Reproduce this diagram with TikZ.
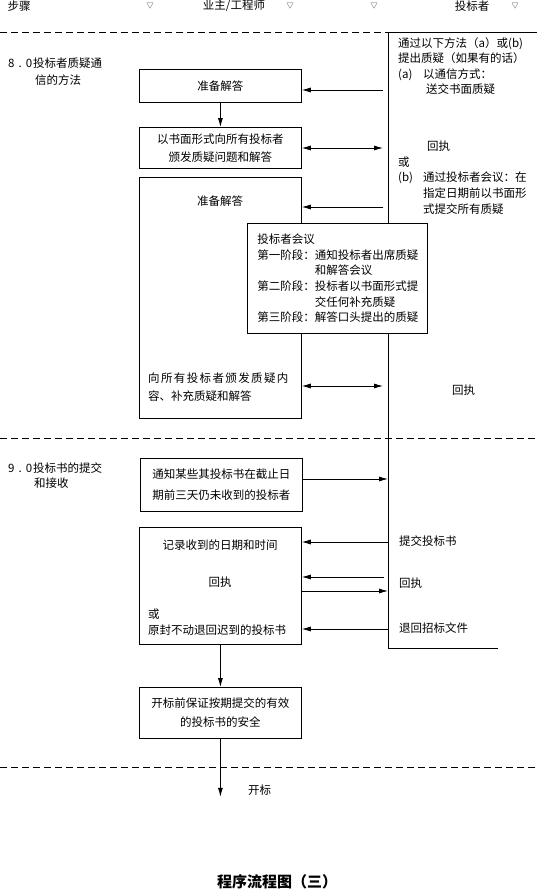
\documentclass[tikz,border=0pt]{standalone}
\usepackage{fontspec}
\setmainfont{Noto Sans CJK SC}
\usetikzlibrary{arrows.meta,calc}
\newcommand{\fs}[1]{\fontsize{11.5}{#1}\selectfont}
\tikzset{
  blk/.style={
    draw=black, line width=0.8pt, fill=white, inner sep=2pt,
    anchor=north west, minimum width=162pt, align=center, font=\fs{18}},
  txt/.style={inner sep=0pt, align=left, anchor=west, font=\fs{15.5}},
  hdr/.style={inner sep=0pt, font=\fs{14}},
  tri/.style={inner sep=0pt, font=\fontsize{7}{8}\selectfont},
  rule/.style={draw=black, line width=0.8pt},
  sep/.style={draw=black, line width=0.8pt, dash pattern=on 7pt off 4pt},
  fl/.style={-{Latex[length=9pt,width=5pt]}, draw=black, line width=0.8pt},
  bi/.style={{Latex[length=9pt,width=5pt]}-{Latex[length=9pt,width=5pt]},
             draw=black, line width=0.8pt},
}

\begin{document}
\begin{tikzpicture}[x=1pt, y=-1pt]
\fill[white] (0,0) rectangle (537,891);
\useasboundingbox (0,0) rectangle (537,891);

% =====================================================================
% header row
\node[hdr] (hstep) at (19,6)  {步骤};
\node[hdr] (hown)  at (234,6) {业主/工程师};
\node[hdr] (hbid)  at (472,6) {投标者};
\foreach \x [count=\i] in {150,290,374,515}
  \node[tri] (v\i) at (\x,6.5) {▽};

% the bidder's column
\node[inner sep=0pt, minimum width=148.6pt, minimum height=616pt,
      anchor=north west] (col) at (388,32) {};
\draw[rule] (col.south west) -- (col.north west) -- (col.north east) -- ++(0,491);
\draw[rule] (col.south west) -- ++(110,0);

\draw[sep] (0,32) -- (col.north west);
\draw[sep] (0,438) -- (537,438);
\draw[sep] (0,767) -- (537,767);

% =====================================================================
% 8.0
\node[txt, font=\fs{17}] (s8) at (8,71.5)
  {8\hspace{4pt}.\hspace{4pt}0\hspace{1pt}投标者质疑通\\\hspace*{27pt}信的方法};

\node[blk, minimum height=33pt] (box1) at (139,69) {准备解答};
\node[blk, minimum height=41pt] (box2) at (139,127)
  {以书面形式向所有投标者\\颁发质疑问题和解答};
\node[blk, minimum height=241pt] (prep) at (139,177) {};
\node[hdr] (prept) at (220,201) {准备解答};
\node[txt, font=\fs{18}] (prepb) at (148,387)
  {{\addfontfeature{LetterSpace=12}向所有投标者颁发质疑内}\\容、补充质疑和解答};

\node[txt, font=\fs{15.3}] (qa) at (398,66)
  {通过以下方法（a）或(b)\\提出质疑（如果有的话）\\\makebox[25pt][l]{(a)}以通信方式：\\\hspace*{28pt}送交书面质疑};
\node[txt] (ack1) at (427,146) {回执};
\node[txt, font=\fs{15.7}] (qb) at (398,185.5)
  {或\\\makebox[25pt][l]{(b)}通过投标者会议：在\\\hspace*{25pt}指定日期前以书面形\\\hspace*{25pt}式提交所有质疑};
\node[txt] (ack2) at (452,390) {回执};

% the meeting sits over the column line
\node[blk, minimum width=180pt, minimum height=110pt, text width=160pt,
      align=left, font=\fs{15.7}] (meet) at (247,223)
  {投标者会议\\第一阶段：通知投标者出席质疑\\\phantom{第一阶段：}和解答会议\\第二阶段：投标者以书面形式提\\\phantom{第二阶段：}交任何补充质疑\\第三阶段：解答口头提出的质疑};

% =====================================================================
% 9.0
\node[txt, font=\fs{15}] (s9) at (8,475.5)
  {9\hspace{4pt}.\hspace{4pt}0\hspace{1pt}投标书的提交\\\hspace*{26pt}和接收};

\node[blk, minimum height=53pt, font=\fs{21}] (notify) at (140,458)
  {通知某些其投标书在截止日\\期前三天仍未收到的投标者};
\node[blk, minimum height=117pt] (rec) at (139,527) {};
\node[hdr] (rect) at (220,545) {记录收到的日期和时间};
\node[hdr] (reca) at (220,582) {回执};
\node[txt, font=\fs{16}] (recb) at (148,622) {或\\原封不动退回迟到的投标书};
\node[blk, minimum height=51pt, font=\fs{19}] (safe) at (139,687)
  {开标前保证按期提交的有效\\的投标书的安全};

\node[txt] (sub) at (399,541) {提交投标书};
\node[txt] (ack3) at (399,583) {回执};
\node[txt] (ret) at (399,628) {退回招标文件};

\coordinate (open) at ($(safe.south)+(0,58)$);
\node[txt] (opent) at (248,790) {开标};

% =====================================================================
% connectors
\foreach \n/\x/\y in {a/383/90, b/383/148, c/383/207, d/383/386, e/388/479,
                      f/388/542, g/384/577, h/388/591, i/388/629}
  \coordinate (r\n) at (\x,\y);

\foreach \a/\b in {ra/box1, rc/prep, rf/rec, rg/rec, ri/rec}
  \draw[fl] (\a) -- (\a -| \b.east);
\foreach \a/\b in {re/notify, rh/rec}
  \draw[fl] (\a -| \b.east) -- (\a);
\foreach \a/\b in {rb/box2, rd/prep}
  \draw[bi] (\a -| \b.east) -- (\a);

\foreach \a/\b in {box1/box2, rec/safe, safe/open}
  \draw[fl] (\a) -- (\b);

% title
\node[inner sep=0pt, font=\fontsize{15}{18}\selectfont\bfseries] (title)
  at (277,882) {程序流程图（三）};

\end{tikzpicture}
\end{document}
